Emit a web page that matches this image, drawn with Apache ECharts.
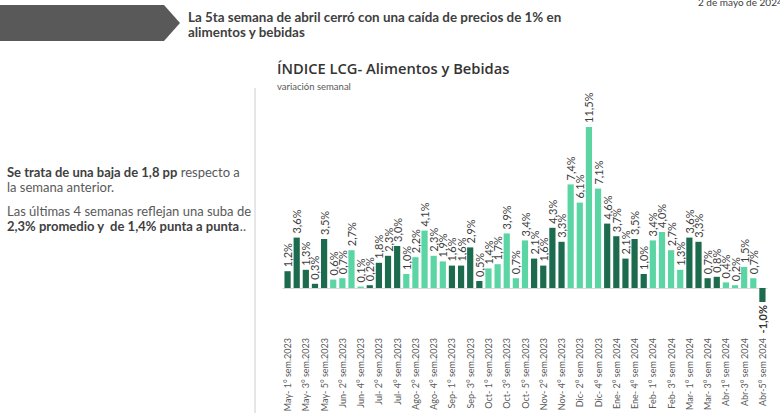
<!DOCTYPE html>
<html>
<head>
<meta charset="utf-8">
<script src="https://cdn.jsdelivr.net/npm/echarts@6/dist/echarts.min.js"></script>
<style>
html,body{margin:0;padding:0;background:#fff;}
#c{width:780px;height:413px;}
</style>
</head>
<body>
<div id="c"></div>
<script>
// ---- data ----
const categories = [
  "May- 1° sem.2023","May- 2° sem.2023","May- 3° sem.2023","May- 4° sem.2023","May- 5° sem.2023",
  "Jun- 1° sem.2023","Jun- 2° sem.2023","Jun- 3° sem.2023","Jun- 4° sem.2023",
  "Jul- 1° sem.2023","Jul- 2° sem.2023","Jul- 3° sem.2023","Jul- 4° sem.2023",
  "Ago- 1° sem.2023","Ago- 2° sem.2023","Ago- 3° sem.2023","Ago- 4° sem.2023","Ago- 5° sem.2023",
  "Sep- 1° sem.2023","Sep- 2° sem.2023","Sep- 3° sem.2023","Sep- 4° sem.2023",
  "Oct- 1° sem.2023","Oct- 2° sem.2023","Oct- 3° sem.2023","Oct- 4° sem.2023","Oct- 5° sem.2023",
  "Nov- 1° sem.2023","Nov- 2° sem.2023","Nov- 3° sem.2023","Nov- 4° sem.2023",
  "Dic- 1° sem 2023","Dic- 2° sem 2023","Dic- 3° sem 2023","Dic- 4° sem 2023",
  "Ene- 1° sem 2024","Ene- 2° sem 2024","Ene- 3° sem 2024","Ene- 4° sem 2024","Ene- 5° sem 2024",
  "Feb- 1° sem 2024","Feb- 2° sem 2024","Feb- 3° sem 2024","Feb- 4° sem 2024",
  "Mar- 1° sem 2024","Mar- 2° sem 2024","Mar- 3° sem 2024","Mar- 4° sem 2024",
  "Abr-1° sem 2024","Abr-2° sem 2024","Abr-3° sem 2024","Abr-4° sem 2024","Abr-5° sem 2024"
];
const values = [
  1.2, 3.6, 1.3, 0.3, 3.5,
  0.6, 0.7, 2.7, 0.1,
  0.2, 1.8, 2.3, 3.0,
  1.0, 2.2, 4.1, 2.3, 1.9,
  1.6, 1.6, 2.9, 0.5,
  1.4, 1.7, 3.9, 0.7, 3.4,
  2.1, 1.6, 4.3, 3.3,
  7.4, 6.1, 11.5, 7.1,
  4.6, 3.7, 2.1, 3.5, 1.0,
  3.4, 4.0, 2.7, 1.3,
  3.6, 3.3, 0.7, 0.8,
  0.4, 0.2, 1.5, 0.7, -1.0
];
// months shaded dark (others light); the latest week is highlighted dark
const darkMonths = ["May","Jul","Sep","Nov","Ene","Mar"];
const latestIndex = categories.length - 1;

const DARK = '#1d6b4e', LIGHT = '#5cd5a5';
const FONT = 'Lato';

const fmt = v => (v.toFixed(1).replace('.', ',')) + '%';

const seriesData = values.map((v, i) => {
  const month = categories[i].slice(0, 3);
  const dark = darkMonths.includes(month) || i === latestIndex;
  const item = { value: v, itemStyle: { color: dark ? DARK : LIGHT } };
  if (v < 0) {
    item.label = { position: 'bottom', align: 'right', fontWeight: 'bold', color: '#333', distance: 3 };
  }
  return item;
});

const chart = echarts.init(document.getElementById('c'), null, { renderer: 'svg' });
chart.setOption({
  animation: false,
  textStyle: { fontFamily: FONT },
  grid: { left: 283, right: 13, top: 120, bottom: 104, outerBoundsMode: 'none', containLabel: false },
  xAxis: {
    type: 'category',
    data: categories,
    axisLine: { onZero: true, lineStyle: { color: '#d9d9d9', width: 1 } },
    axisTick: { show: false },
    axisLabel: { interval: 1, rotate: 90, margin: 29, fontSize: 9, color: '#595959', fontFamily: FONT }
  },
  yAxis: {
    type: 'value', min: -1.5, max: 12, show: false, splitLine: { show: false }
  },
  series: [{
    type: 'bar',
    data: seriesData,
    barWidth: '68%',
    label: {
      show: true, position: 'top', rotate: 90, align: 'left', verticalAlign: 'middle',
      distance: 4, fontSize: 11, color: '#404040', fontFamily: FONT,
      formatter: p => fmt(p.value)
    }
  }],
  graphic: [
    { type: 'polygon', shape: { points: [[0,5],[164,5],[180,23],[164,41],[0,41]] }, style: { fill: '#595959' } },
    { type: 'text', left: 188, top: 9, style: {
      text: 'La 5ta semana de abril cerró con una caída de precios de 1% en\nalimentos y bebidas',
      font: 'bold 13.4px ' + FONT, fill: '#404040', lineHeight: 15 } },
    { type: 'text', left: 698, top: -3, style: { text: '2 de mayo de 2024', font: '10px ' + FONT, fill: '#404040' } },
    { type: 'text', left: 277, top: 60, style: { text: 'ÍNDICE LCG- Alimentos y Bebidas', font: '600 14.7px "Open Sans"', fill: '#333' } },
    { type: 'text', left: 277, top: 81, style: { text: 'variación semanal', font: '9.5px ' + FONT, fill: '#595959' } },
    { type: 'line', shape: { x1: 255, y1: 88, x2: 255, y2: 413 }, style: { stroke: '#e6e6e6', lineWidth: 2 } },
    { type: 'text', left: 7, top: 165, style: {
      rich: {
        b: { font: 'bold 13px ' + FONT, fill: '#404040', lineHeight: 15.5 },
        n: { font: '13px ' + FONT, fill: '#595959', lineHeight: 15.5 }
      },
      text: '{b|Se trata de una baja de 1,8 pp}{n| respecto a}\n{n|la semana anterior.}'
    } },
    { type: 'text', left: 7, top: 204, style: {
      rich: {
        b: { font: 'bold 13px ' + FONT, fill: '#404040', lineHeight: 15.5 },
        n: { font: '13px ' + FONT, fill: '#595959', lineHeight: 15.5 }
      },
      text: '{n|Las últimas 4 semanas reflejan una suba de}\n{b|2,3% promedio y  de 1,4% punta a punta}{n|..}'
    } }
  ]
});
</script>
</body>
</html>
